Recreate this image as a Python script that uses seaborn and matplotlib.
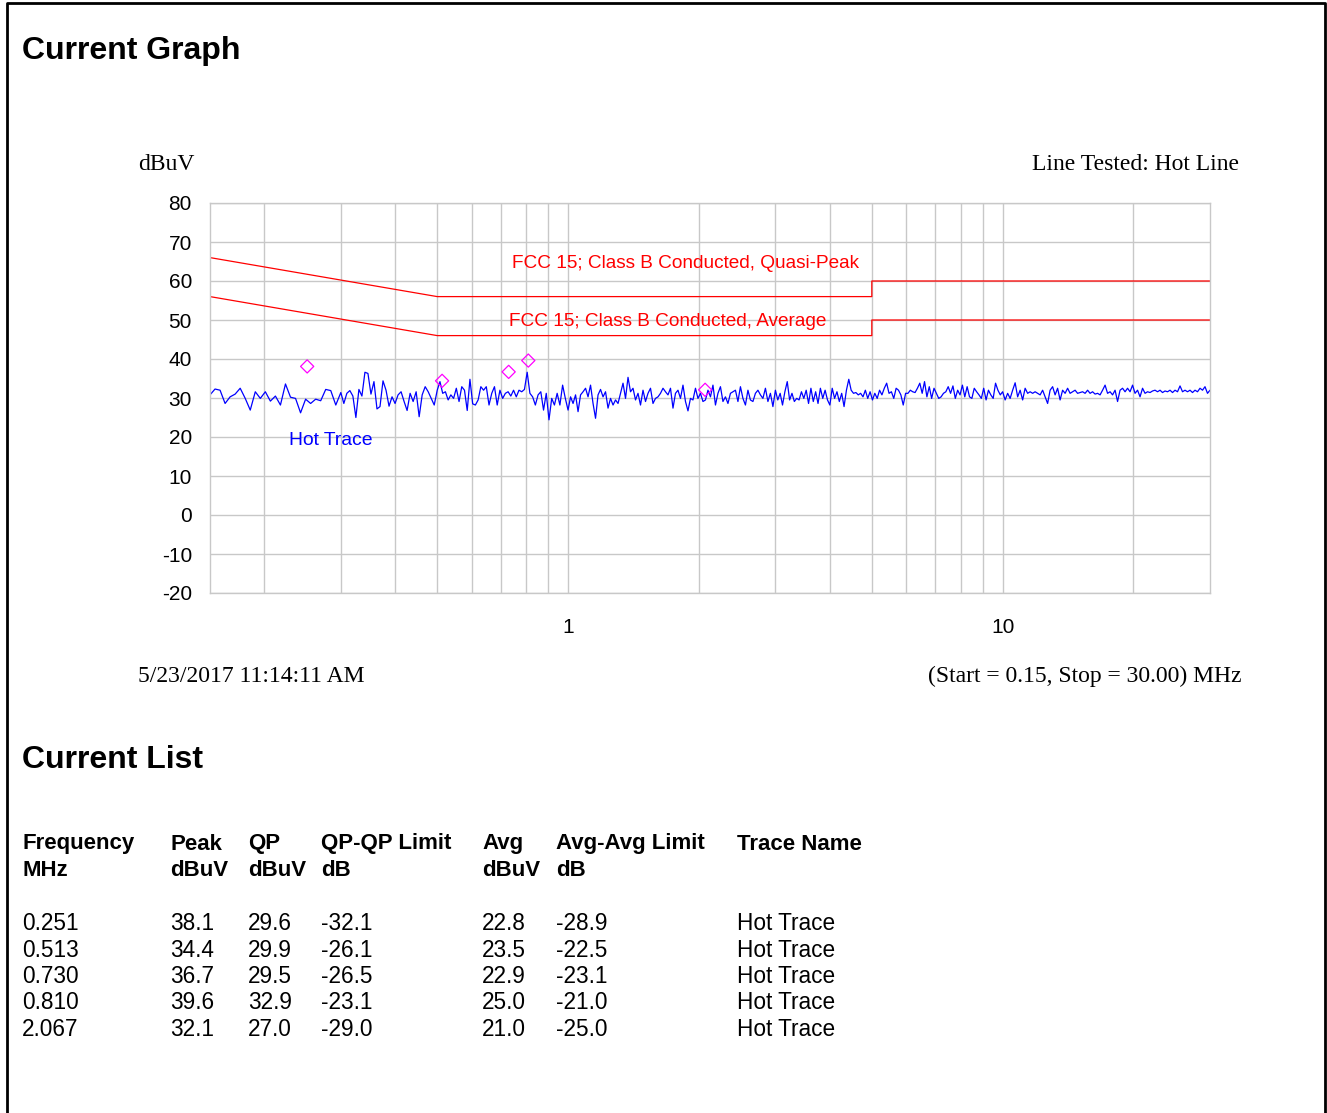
import numpy as np
import pandas as pd
import seaborn as sns
import matplotlib.pyplot as plt
from matplotlib.lines import Line2D

# ---- data ----
# measured trace, read per frequency band (MHz) -> dBuV values
band_edges = [0.15, 0.3, 0.5, 1.0, 3.0, 10.0, 30.0]
band_values = [
    [30.8, 32.3, 32.0, 28.6, 30.3, 31.0, 32.5, 29.9, 26.9, 31.6, 29.9, 31.6, 29.2,
     30.5, 28.2, 33.6, 30.2, 29.9, 26.2, 29.7, 28.6, 29.7, 29.3, 32.2, 31.9, 28.2],
    [31.4, 28.6, 31.2, 31.9, 30.5, 25.0, 32.2, 30.5, 36.6, 36.3, 31.0, 34.2, 27.2,
     27.8, 34.4, 32.0, 27.9, 30.3, 28.6, 30.8, 31.6, 29.1, 26.8, 31.2, 29.1, 31.6,
     25.2, 30.8, 32.9, 31.6, 29.9, 28.2],
    [32.0, 34.2, 31.2, 31.6, 29.5, 30.8, 29.9, 32.5, 29.1, 32.9, 32.0, 26.8, 34.8,
     28.5, 28.2, 29.5, 32.9, 32.0, 32.9, 28.2, 31.2, 32.9, 28.2, 32.0, 29.9, 31.2,
     31.6, 30.5, 32.0, 30.3, 32.0, 31.6, 32.2, 36.6, 31.2, 30.3, 28.2, 30.8, 31.6,
     26.9, 31.2, 24.4, 29.9, 28.2, 31.2, 28.2, 33.3, 29.9],
    [26.9, 30.3, 28.6, 30.8, 26.5, 30.8, 31.6, 32.5, 30.3, 33.3, 28.6, 24.8, 30.8,
     32.2, 30.3, 31.6, 27.4, 29.9, 28.2, 29.5, 28.6, 31.2, 33.8, 29.9, 35.3, 31.6,
     32.5, 29.5, 31.2, 28.2, 32.0, 29.1, 31.2, 32.5, 28.6, 29.9, 30.3, 31.2, 32.5,
     31.6, 30.8, 32.5, 27.4, 31.2, 32.0, 29.9, 33.3, 29.1, 26.7, 29.9, 29.5, 32.5,
     29.9, 31.2, 29.1, 29.5, 32.0, 30.3, 33.3, 28.2, 31.2, 32.9, 29.1, 30.3, 28.6,
     31.2, 31.6, 32.0, 29.1, 32.9, 29.9, 28.2, 32.0, 29.5, 29.1, 31.2, 32.0, 30.8,
     29.9, 32.5, 29.1, 31.2, 27.8],
    [32.0, 29.5, 31.2, 28.2, 31.6, 34.2, 29.5, 31.2, 29.1, 29.9, 29.5, 31.6, 29.9,
     32.0, 28.6, 32.5, 29.1, 31.6, 28.6, 32.5, 29.9, 32.0, 29.5, 28.2, 32.5, 29.9,
     31.6, 29.1, 31.2, 27.8, 32.0, 34.8, 32.0, 31.2, 31.4, 30.8, 31.2, 30.3, 32.0,
     29.9, 31.6, 29.5, 31.2, 29.9, 32.0, 30.8, 32.5, 33.8, 31.2, 31.6, 29.9, 32.5,
     32.0, 30.8, 28.2, 31.2, 31.2, 32.0, 31.6, 31.4, 32.5, 33.8, 31.2, 34.2, 30.3,
     32.9, 29.9, 32.5, 31.2, 29.9, 30.3, 31.2, 31.6, 32.9, 31.2, 33.1, 29.9, 32.0,
     30.8, 33.3, 30.3, 32.9, 30.3, 29.9, 32.5, 31.6, 30.8, 29.9, 32.5, 29.5, 32.0,
     30.8, 29.9, 33.8, 32.0, 30.8],
    [31.6, 29.5, 31.2, 29.9, 32.0, 33.9, 30.3, 32.0, 29.5, 32.5, 31.2, 31.6, 31.2,
     31.6, 31.2, 30.8, 32.0, 30.3, 28.6, 32.0, 32.9, 30.8, 32.5, 29.5, 32.0, 31.2,
     32.5, 31.2, 31.6, 32.0, 31.2, 31.4, 31.6, 31.2, 32.0, 31.2, 31.6, 31.0, 31.2,
     30.8, 32.0, 33.3, 31.2, 31.6, 30.8, 32.0, 29.1, 32.0, 32.5, 31.6, 32.5, 31.6,
     33.3, 31.2, 32.0, 30.3, 32.5, 31.2, 31.6, 31.4, 31.8, 32.0, 31.6, 32.0, 31.4,
     31.8, 31.6, 32.0, 31.4, 32.0, 31.6, 33.1, 31.6, 32.0, 31.6, 32.0, 31.4, 32.0,
     31.6, 32.5, 32.0, 32.9, 31.2, 32.0],
]

# limit lines (MHz, dBuV)
qp_limit_f = [0.15, 0.5, 5.0, 5.0, 30.0]
qp_limit_db = [66, 56, 56, 60, 60]
avg_limit_f = [0.15, 0.5, 5.0, 5.0, 30.0]
avg_limit_db = [56, 46, 46, 50, 50]

# peak list
list_freq = [0.251, 0.513, 0.730, 0.810, 2.067]
list_peak = [38.1, 34.4, 36.7, 39.6, 32.1]
list_qp = [29.6, 29.9, 29.5, 32.9, 27.0]
list_qp_margin = [-32.1, -26.1, -26.5, -23.1, -29.0]
list_avg = [22.8, 23.5, 22.9, 25.0, 21.0]
list_avg_margin = [-28.9, -22.5, -23.1, -21.0, -25.0]
list_trace = ["Hot Trace"] * 5

# ---- build trace frame ----
freqs, levels = [], []
for i, vals in enumerate(band_values):
    last = i == len(band_values) - 1
    f = np.geomspace(band_edges[i], band_edges[i + 1], len(vals), endpoint=last)
    freqs.extend(f)
    levels.extend(vals)
trace = pd.DataFrame({'freq': freqs, 'level': levels})

W, H = 1327, 1113
GRID = '#c8c8c8'


def fx(x):
    return x / W


def fy(y):
    return 1 - y / H


sns.set_style('white')
plt.rcParams['font.family'] = ['Liberation Sans', 'DejaVu Sans']
plt.rcParams['text.color'] = 'black'
plt.rcParams['xtick.labelcolor'] = 'black'
plt.rcParams['ytick.labelcolor'] = 'black'
plt.rcParams['axes.unicode_minus'] = False

fig = plt.figure(figsize=(W / 100, H / 100), dpi=100)
ax = fig.add_axes([fx(210), fy(593), 1000 / W, 390 / H])

sns.lineplot(data=trace, x='freq', y='level', ax=ax, color='#0000ff', lw=0.9,
             estimator=None, sort=False)
sns.lineplot(x=qp_limit_f, y=qp_limit_db, ax=ax, color='#ff0000', lw=0.9,
             estimator=None, sort=False)
sns.lineplot(x=avg_limit_f, y=avg_limit_db, ax=ax, color='#ff0000', lw=0.9,
             estimator=None, sort=False)
sns.scatterplot(x=list_freq, y=list_peak, ax=ax, marker='D', s=45,
                facecolor='none', edgecolor='#ff00ff', linewidth=0.9, zorder=5)

ax.set_xscale('log')
ax.set_xlim(0.15, 30)
ax.set_ylim(-20, 80)
ax.set_yticks(range(-20, 81, 10))
ax.set_xticks([1, 10])
ax.set_xticklabels(['1', '10'])
minor = [0.2, 0.3, 0.4, 0.5, 0.6, 0.7, 0.8, 0.9,
         2, 3, 4, 5, 6, 7, 8, 9, 20]
ax.set_xticks(minor, minor=True)
ax.xaxis.set_minor_formatter(plt.NullFormatter())
ax.grid(True, which='both', color=GRID, lw=1.0)
ax.set_axisbelow(True)
ax.tick_params(axis='y', length=7, width=1, color=GRID, labelsize=15, pad=6,
               labelcolor='black')
ax.tick_params(axis='x', which='major', length=12, width=1, color=GRID,
               labelsize=15, pad=6, direction='out', labelcolor='black')
ax.tick_params(axis='x', which='minor', length=0)
for sp in ax.spines.values():
    sp.set_color(GRID)
    sp.set_linewidth(1.0)
ax.set_xlabel('')
ax.set_ylabel('')

# in-plot labels
ax.text(0.2285, 19.0, 'Hot Trace', color='#0000ff', fontsize=13.9, va='center')
ax.text(0.7436, 64.4, 'FCC 15; Class B Conducted, Quasi-Peak', color='#ff0000',
        fontsize=13.7, va='center')
ax.text(0.732, 49.5, 'FCC 15; Class B Conducted, Average', color='#ff0000',
        fontsize=13.7, va='center')

# page text
serif = ['Liberation Serif', 'DejaVu Serif']
fig.text(fx(22), fy(51), 'Current Graph', fontsize=23, fontweight='bold', va='center')
fig.text(fx(138), fy(165), 'dBuV', fontsize=17, family=serif, va='center')
fig.text(fx(1239), fy(165), 'Line Tested: Hot Line', fontsize=17, family=serif,
         va='center', ha='right')
fig.text(fx(138), fy(676), '5/23/2017 11:14:11 AM', fontsize=17, family=serif,
         va='center')
fig.text(fx(1242), fy(676), '(Start = 0.15, Stop = 30.00) MHz', fontsize=17,
         family=serif, va='center', ha='right')
fig.text(fx(22), fy(760), 'Current List', fontsize=23, fontweight='bold', va='center')

cols = [22, 170, 248, 321, 482, 556, 737]
head1 = ['Frequency', 'Peak', 'QP', 'QP-QP Limit', 'Avg', 'Avg-Avg Limit', 'Trace Name']
head2 = ['MHz', 'dBuV', 'dBuV', 'dB', 'dBuV', 'dB', '']
for x, a, b in zip(cols, head1, head2):
    fig.text(fx(x), fy(844), a, fontsize=16, fontweight='bold', va='center')
    fig.text(fx(x), fy(870), b, fontsize=16, fontweight='bold', va='center')

for i in range(len(list_freq)):
    row = [f'{list_freq[i]:.3f}', f'{list_peak[i]:.1f}', f'{list_qp[i]:.1f}',
           f'{list_qp_margin[i]:.1f}', f'{list_avg[i]:.1f}',
           f'{list_avg_margin[i]:.1f}', list_trace[i]]
    y = 924 + i * 26.25
    for x, s in zip(cols, row):
        fig.text(fx(x), fy(y), s, fontsize=16.3, va='center')

# page frame (left, top, right)
fig.add_artist(Line2D([fx(7), fx(7), fx(1325), fx(1325)], [0, fy(3), fy(3), 0],
                      color='black', lw=2))

fig.savefig('out.png', dpi=100)
